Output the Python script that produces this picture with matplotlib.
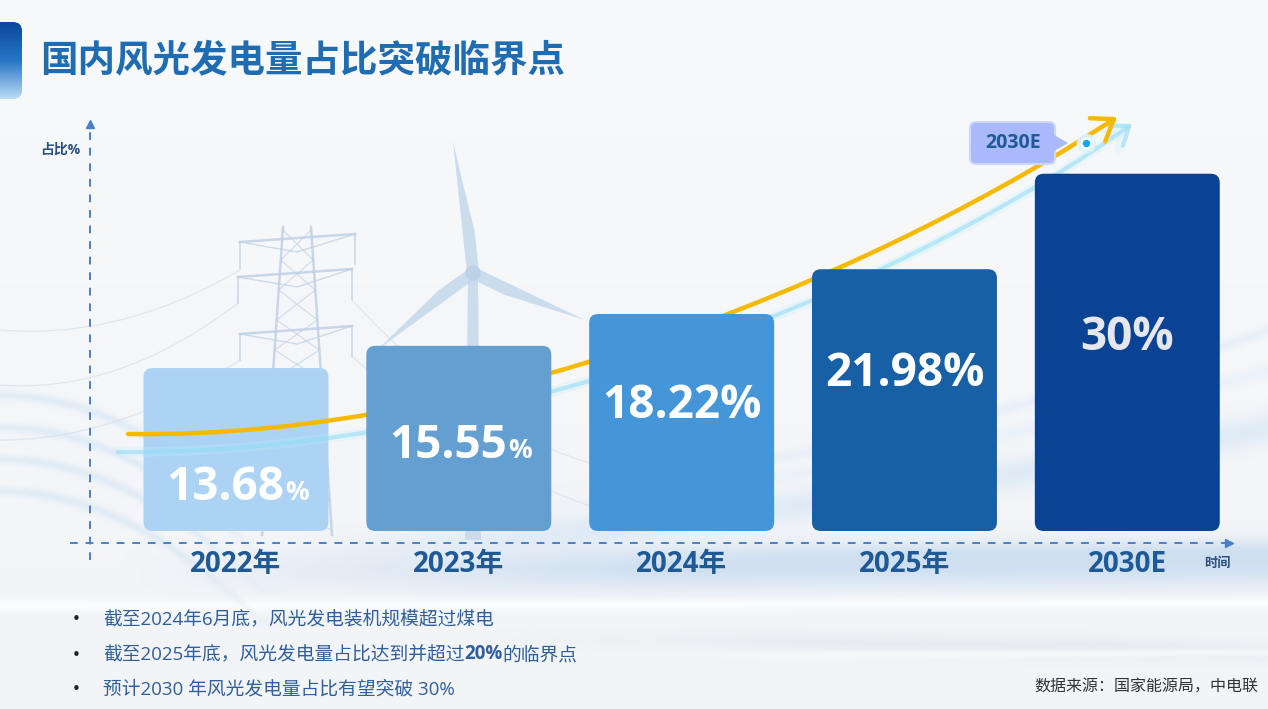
import numpy as np
import matplotlib
matplotlib.use('Agg')
import matplotlib.pyplot as plt
from matplotlib.patches import FancyBboxPatch, FancyArrowPatch, Polygon, Ellipse
from matplotlib.path import Path
from matplotlib.transforms import Affine2D, blended_transform_factory
from matplotlib.colors import to_rgb

# ---------------- data ----------------
categories = ['2022年', '2023年', '2024年', '2025年', '2030E']
shares = [13.68, 15.55, 18.22, 21.98, 30.0]
value_labels = ['13.68', '15.55', '18.22%', '21.98%', '30%']
small_pct = [True, True, False, False, False]
bar_colors = ['#acd3f3', '#649fd2', '#4596d8', '#1760a5', '#0a4393']
label_colors = ['white', 'white', 'white', 'white', '#e6e7ee']
title = '国内风光发电量占比突破临界点'
y_axis_label = '占比%'
x_axis_label = '时间'
callout_label = '2030E'
bullet_1 = '截至2024年6月底，风光发电装机规模超过煤电'
bullet_2 = ['截至2025年底，风光发电量占比达到并超过', '20%', '的临界点']
bullet_3 = '预计2030 年风光发电量占比有望突破 30%'
source = '数据来源：国家能源局，中电联'

# ---------------- layout ----------------
LABEL_Y_PX = [487, 445, 406, 373, 337]   # vertical placement of value labels (pixels from top)

plt.rcParams['font.family'] = ['Noto Sans CJK SC', 'DejaVu Sans']
MIX = ['Open Sans', 'Noto Sans CJK SC', 'DejaVu Sans']

W, H = 1268, 709
fig = plt.figure(figsize=(W / 100, H / 100), dpi=100)
fig.patch.set_facecolor('#f5f7fa')
PX = Affine2D().scale(1 / W, -1 / H).translate(0, 1) + fig.transFigure

# ---------------- background (pixel axes) ----------------
bg = fig.add_axes([0, 0, 1, 1], zorder=0)
bg.set_xlim(0, W)
bg.set_ylim(H, 0)
bg.axis('off')

Y, X = np.mgrid[0:H, 0:W].astype(float)
T = X / W
img = np.empty((H, W, 3))
top_c = np.array(to_rgb('#f8f9fb'))
bot_c = np.array(to_rgb('#f2f4f7'))
img[:] = top_c + (bot_c - top_c) * (Y / H)[..., None]


def blend(color, alpha):
    c = np.array(to_rgb(color))
    a = np.clip(alpha, 0, 1)[..., None]
    img[:] = img * (1 - a) + c * a


def band(center, sigma):
    return np.exp(-((Y - center) / sigma) ** 2)


# light blue band under the x-axis
blend('#c3d8ee', 0.7 * np.clip((X - 120) / 520, 0, 1) * band(572 - 8 * T, 22))
blend('#b9d3ec', 0.35 * np.clip((X - 600) / 300, 0, 1) * band(560 - 10 * T, 10))
# bands rising to the right behind the bars
u = np.clip((X - 280) / 988, 0, 1)
blend('#cfe2f3', 0.55 * np.clip((X - 280) / 300, 0, 1) * band(548 - 120 * u ** 1.6, 16))
blend('#e2eef8', 0.55 * np.clip((X - 380) / 300, 0, 1) * band(520 - 150 * u ** 1.8, 7))
blend('#d6e6f4', 0.4 * np.clip((X - 500) / 300, 0, 1) * band(500 - 170 * u ** 2.0, 6))
# white highlight and grey streaks
blend('#ffffff', 0.75 * band(606 - 4 * T, 6))
blend('#dde3ea', 0.5 * np.clip((X - 450) / 400, 0, 1) * band(636 - 4 * T + 20 * T ** 2, 11))
blend('#ffffff', 0.5 * np.clip((X - 600) / 300, 0, 1) * band(658 - 6 * T, 4))
# left swooshes
v = np.clip(X / 260, 0, 1)
fade = np.clip((300 - X) / 120, 0, 1)
for k in range(4):
    blend('#d3e4f4', 0.55 * fade * band(395 + 32 * k + 130 * v ** 2, 5))
bg.imshow(img, extent=(0, W, H, 0), aspect='auto', zorder=0, interpolation='bilinear')

# faint transmission tower
tc = '#bfd1e5'
legs = [((283, 227), (262, 535)), ((311, 227), (332, 535))]
for (x0, y0), (x1, y1) in legs:
    bg.plot([x0, x1], [y0, y1], color=tc, lw=1.8, alpha=0.85, zorder=1)
for ya, xl, xr in [(238, 240, 355), (273, 238, 352), (330, 240, 352)]:
    bg.plot([xl, xr], [ya + 4, ya - 4], color=tc, lw=1.8, alpha=0.85, zorder=1)
    bg.plot([xl, 297, xr], [ya + 4, ya + 14, ya - 4], color=tc, lw=1.0, alpha=0.75, zorder=1)
    bg.plot([xl, xl], [ya + 4, ya + 30], color=tc, lw=1.3, alpha=0.75, zorder=1)
    bg.plot([xr, xr], [ya - 4, ya + 26], color=tc, lw=1.3, alpha=0.75, zorder=1)
for yy in range(230, 530, 30):
    f0 = (yy - 227) / 308
    f1 = (yy + 30 - 227) / 308
    xl0, xr0 = 283 - 21 * f0, 311 + 21 * f0
    xl1, xr1 = 283 - 21 * f1, 311 + 21 * f1
    bg.plot([xl0, xr1], [yy, yy + 30], color=tc, lw=0.9, alpha=0.65, zorder=1)
    bg.plot([xr0, xl1], [yy, yy + 30], color=tc, lw=0.9, alpha=0.65, zorder=1)
lc = '#cddbea'
for (x0, y0), (x1, y1), sag in [((240, 270), (0, 330), 20), ((238, 303), (0, 385), 25),
                                ((352, 300), (620, 470), 30), ((352, 356), (640, 520), 25),
                                ((240, 360), (0, 440), 20)]:
    tt = np.linspace(0, 1, 60)
    bg.plot(x0 + (x1 - x0) * tt, y0 + (y1 - y0) * tt + sag * 4 * tt * (1 - tt),
            color=lc, lw=1.0, alpha=0.55, zorder=1)

# faint wind turbine
wc = '#c4d8ec'
bg.add_patch(Polygon([(468, 280), (478, 280), (481, 540), (465, 540)], closed=True,
                     color=wc, alpha=0.85, lw=0, zorder=1))
hub = (473, 273)
for tip in [(453, 142), (585, 320), (377, 350)]:
    vv = np.array(tip) - np.array(hub)
    n = np.array([-vv[1], vv[0]]) / np.hypot(*vv)
    p = [hub + n * 6, np.array(hub) + vv * 0.3 + n * 8, tip, np.array(hub) - n * 6]
    bg.add_patch(Polygon(p, closed=True, color=wc, alpha=0.85, lw=0, zorder=1))
bg.add_patch(Ellipse(hub, 14, 14, color='#bcd2e8', zorder=1))

# title marker bar with gradient
bar_grad = np.linspace(0, 1, 128)[:, None]
c_top = np.array(to_rgb('#0b489a'))
c_mid = np.array(to_rgb('#2874c4'))
c_bot = np.array(to_rgb('#bcddf6'))
rgb = np.where(bar_grad[..., None] < 0.5,
               c_top + (c_mid - c_top) * (bar_grad[..., None] / 0.5),
               c_mid + (c_bot - c_mid) * ((bar_grad[..., None] - 0.5) / 0.5))
im = bg.imshow(rgb, extent=(0, 22, 99, 22), aspect='auto', zorder=2)
clip = FancyBboxPatch((-12, 22), 34, 77, boxstyle='round,pad=0,rounding_size=9',
                      transform=bg.transData, facecolor='none', edgecolor='none')
bg.add_patch(clip)
im.set_clip_path(clip)

# axes lines (dashed, with arrow heads)
axc = '#4a7fc6'
bg.plot([90, 90], [560, 128], color=axc, lw=1.4, ls=(0, (4, 4)), zorder=2)
bg.plot([90], [124], marker='^', ms=6, color=axc, zorder=2)
bg.plot([70, 1226], [543, 543], color=axc, lw=1.4, ls=(0, (4, 4)), zorder=2)
bg.plot([1229], [543], marker='>', ms=6, color=axc, zorder=2)

# ---------------- main chart axes ----------------
ax = fig.add_axes([80 / W, 178 / H, (1261 - 80) / W, (531 - 100) / H], zorder=2)
ax.patch.set_alpha(0)
ax.axis('off')
xpos = np.arange(len(categories))
bars = ax.bar(xpos, shares, width=0.83, color=bar_colors)
ax.set_xlim(-0.7, 4.6)
ax.set_ylim(0, 36.19)
px_per_x = 1181 / 5.3
px_per_y = 431 / 36.19
for i, rect in enumerate(bars):
    x0, w, h = rect.get_x(), rect.get_width(), rect.get_height()
    rect.set_visible(False)
    fb = FancyBboxPatch((x0, 0), w, h, boxstyle='round,pad=0,rounding_size=0.04',
                        mutation_aspect=px_per_x / px_per_y, facecolor=bar_colors[i],
                        edgecolor='none', zorder=2 if i == 0 else 4)
    ax.add_patch(fb)

# value labels (x in data, y in pixels)
lab_tr = blended_transform_factory(ax.transData, PX)
for i, lab in enumerate(value_labels):
    if small_pct[i]:
        t1 = ax.text(i - 0.05, LABEL_Y_PX[i], lab, transform=lab_tr, ha='center', va='center',
                     fontsize=33, fontweight='bold', color=label_colors[i], family=MIX, zorder=6)
        ax.annotate('%', xy=(1.0, 0.0), xycoords=t1, xytext=(1, 3), textcoords='offset points',
                    ha='left', va='bottom', fontsize=19, fontweight='bold',
                    color=label_colors[i], family=MIX, zorder=6)
    else:
        ax.text(i, LABEL_Y_PX[i], lab, transform=lab_tr, ha='center', va='center', fontsize=33,
                fontweight='bold', color=label_colors[i], family=MIX, zorder=6)

# category labels
for i, cat in enumerate(categories):
    ax.text(i, 565, cat, transform=lab_tr, ha='center', va='center', fontsize=20,
            fontweight='bold', color='#1f5a96', family=MIX, clip_on=False)

# trend arrows (decorative)
glow_path = Path([(118, 452), (520, 456), (925, 272), (1132, 124)],
                 [Path.MOVETO, Path.CURVE4, Path.CURVE4, Path.CURVE4])
for lw, al, col in [(7, 0.25, '#bff0fb'), (3, 0.55, '#8fdcf5')]:
    ga = FancyArrowPatch(path=glow_path, arrowstyle='->,head_length=0.6,head_width=0.45',
                         mutation_scale=20, color=col, lw=lw, alpha=al, transform=PX,
                         zorder=3, clip_on=False)
    ax.add_artist(ga)
gold_path = Path([(128, 434), (500, 440), (900, 260), (1117, 117)],
                 [Path.MOVETO, Path.CURVE4, Path.CURVE4, Path.CURVE4])
ga = FancyArrowPatch(path=gold_path, arrowstyle='->,head_length=0.7,head_width=0.5',
                     mutation_scale=20, color='#f7b900', lw=3.2, transform=PX,
                     zorder=3, clip_on=False, capstyle='round', joinstyle='round')
ax.add_artist(ga)

# callout 2030E
ax.plot([1086], [143], 'o', ms=13, color='#d9f6ff', alpha=0.9, transform=PX, zorder=7, clip_on=False)
ax.plot([1086], [143], 'o', ms=7, mfc='#17a6ef', mec='white', mew=1.6, transform=PX, zorder=8,
        clip_on=False)
cb = FancyBboxPatch((970, 122), 85, 42, boxstyle='round,pad=0,rounding_size=6',
                    facecolor='#a9b9fb', edgecolor='#cbd7ff', lw=1.5, transform=PX,
                    zorder=7, clip_on=False)
ax.add_artist(cb)
ax.add_artist(Polygon([(1054, 135), (1068, 143), (1054, 151)], closed=True, facecolor='#a9b9fb',
                      edgecolor='none', transform=PX, zorder=7, clip_on=False))
ax.text(1013, 143, callout_label, transform=PX, ha='center', va='center', fontsize=14,
        fontweight='bold', color='#1f5a96', family=MIX, zorder=8)

# ---------------- texts ----------------
fig.text(40 / W, 1 - 60 / H, title, fontsize=27, fontweight='bold', color='#1e6cb2', va='center')
fig.text(40 / W, 1 - 150 / H, y_axis_label, fontsize=10, fontweight='bold', color='#2b4f82',
         va='center', family=MIX)
fig.text(1204 / W, 1 - 563 / H, x_axis_label, fontsize=9.5, fontweight='bold', color='#2b4f82',
         va='center')

tcol = '#2f5f9c'
rows = [619, 655, 689]
for yy in rows:
    fig.text(72 / W, 1 - yy / H, '•', fontsize=11, color='#222222', va='center', family='DejaVu Sans')
fig.text(103 / W, 1 - rows[0] / H, bullet_1, fontsize=13.5, color=tcol, va='center', family=MIX)
b1 = fig.text(103 / W, 1 - rows[1] / H, bullet_2[0], fontsize=13.5, color=tcol, va='center', family=MIX)
b2 = bg.annotate(bullet_2[1], xy=(1, 0), xycoords=b1, ha='left', va='bottom', fontsize=13.5,
                 fontweight='bold', color=tcol, family=MIX)
bg.annotate(bullet_2[2], xy=(1, 0), xycoords=b2, ha='left', va='bottom', fontsize=13.5,
            color=tcol, family=MIX)
fig.text(103 / W, 1 - rows[2] / H, bullet_3, fontsize=13.5, color=tcol, va='center', family=MIX)
fig.text(1258 / W, 1 - 687 / H, source, fontsize=11.5, color='#333333', ha='right', va='center')

fig.savefig('out.png', dpi=100, facecolor=fig.get_facecolor())
